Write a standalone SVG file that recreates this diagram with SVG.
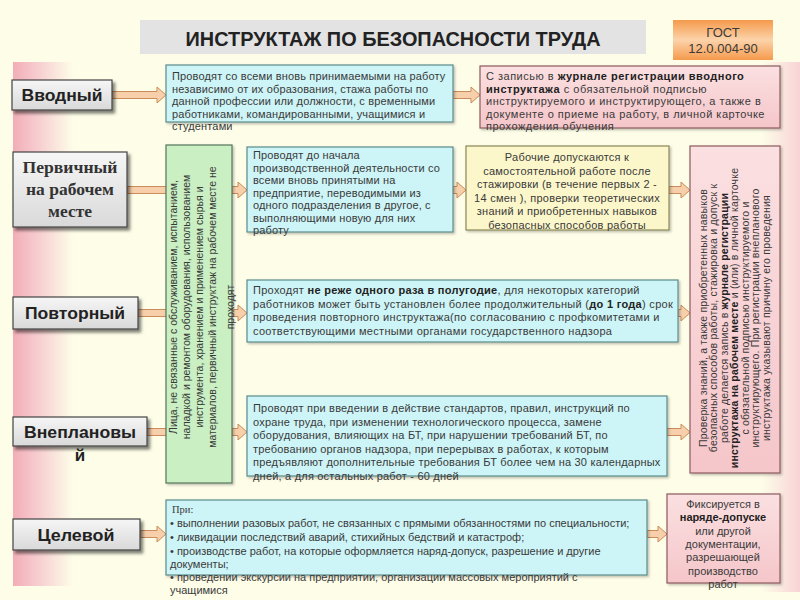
<svg xmlns="http://www.w3.org/2000/svg" width="800" height="600" viewBox="0 0 800 600">
<defs>
<linearGradient id="gLeftBand" x1="0" y1="0" x2="1" y2="0">
<stop offset="0" stop-color="#f2adb6"/><stop offset="0.35" stop-color="#f6c8cd"/><stop offset="1" stop-color="#fdfde8"/>
</linearGradient>
<linearGradient id="gRightBand" x1="0" y1="0" x2="1" y2="0">
<stop offset="0" stop-color="#fdfde8"/><stop offset="1" stop-color="#f8d3d6"/>
</linearGradient>
<linearGradient id="gLabel" x1="0" y1="0" x2="0" y2="1">
<stop offset="0" stop-color="#f6f6f6"/><stop offset="1" stop-color="#d9d9d9"/>
</linearGradient>
<linearGradient id="gPink" x1="0" y1="0" x2="0" y2="1">
<stop offset="0" stop-color="#fbe0e1"/><stop offset="1" stop-color="#f5c6ca"/>
</linearGradient>
<linearGradient id="gGost" x1="0" y1="0" x2="0" y2="1">
<stop offset="0" stop-color="#f59a4c"/><stop offset="0.5" stop-color="#fcd3aa"/><stop offset="1" stop-color="#f59a4c"/>
</linearGradient>
<filter id="shadow" x="-10%" y="-10%" width="130%" height="140%">
<feDropShadow dx="2.5" dy="3" stdDeviation="1.5" flood-color="#000" flood-opacity="0.5"/>
</filter>
<filter id="shadowS" x="-5%" y="-5%" width="110%" height="115%">
<feDropShadow dx="1.5" dy="1.5" stdDeviation="1" flood-color="#000" flood-opacity="0.25"/>
</filter>
</defs>
<style>
.lbl{fill:url(#gLabel);stroke:#444;stroke-width:1.2;filter:url(#shadow)}
.cyan{fill:#cdf4f6;stroke:#5b8a8c;stroke-width:1.2;filter:url(#shadowS)}
.pink{fill:url(#gPink);stroke:#8c5a5e;stroke-width:1.2;filter:url(#shadowS)}
.yel{fill:#fcf7cb;stroke:#8a8757;stroke-width:1.2;filter:url(#shadowS)}
.grn{fill:#c9efc2;stroke:#56755a;stroke-width:1.2;filter:url(#shadowS)}
.arr{fill:#f8cfab;stroke:#c98c5a;stroke-width:1}
.lt{font-family:"Liberation Sans",Arial,sans-serif;font-size:17px;font-weight:bold;fill:#222;text-anchor:middle}
.lts{font-family:"Liberation Serif","Times New Roman",serif;font-size:17px;font-weight:bold;fill:#333;text-anchor:middle}
.t{font-family:"Liberation Sans",Arial,sans-serif;font-size:10.5px;fill:#3a3a3a}
.t11{font-family:"Liberation Sans",Arial,sans-serif;font-size:11px;fill:#3a3a3a}
.sp{font-family:"Liberation Sans",Arial,sans-serif;font-size:11px;fill:#3a3a3a;letter-spacing:0.15px}
.sy{font-family:"Liberation Sans",Arial,sans-serif;font-size:11px;fill:#3a3a3a;letter-spacing:0.25px}
.c{text-anchor:middle}
.b{font-weight:bold;fill:#222}
</style>
<rect width="800" height="600" fill="#fdfde8"/>
<rect x="13" y="62" width="60" height="524" fill="url(#gLeftBand)"/>
<rect x="762" y="62" width="38" height="530" fill="url(#gRightBand)"/>

<g id="title">
<rect x="140" y="20" width="506" height="34" fill="#e3e3e3"/>
<text x="393" y="46" font-family="Liberation Sans,Arial,sans-serif" font-size="21" font-weight="bold" fill="#222" text-anchor="middle" textLength="415" lengthAdjust="spacingAndGlyphs">ИНСТРУКТАЖ ПО БЕЗОПАСНОСТИ ТРУДА</text>
</g>
<g id="gost">
<rect x="673" y="20" width="100" height="40" fill="url(#gGost)"/>
<text x="723" y="37" font-family="Liberation Sans,Arial,sans-serif" font-size="13" fill="#3a3a3a" text-anchor="middle">ГОСТ</text>
<text x="723" y="53" font-family="Liberation Sans,Arial,sans-serif" font-size="13" fill="#3a3a3a" text-anchor="middle">12.0.004-90</text>
</g>

<g id="connectors">
<path class="arr" d="M112,91.5 L157,91.5 L157,87 L166,95 L157,103 L157,98.5 L112,98.5 Z"/>
<path class="arr" d="M453,91.5 L471,91.5 L471,87 L480,95 L471,103 L471,98.5 L453,98.5 Z"/>
<path class="arr" d="M127,186.5 L170,186.5 L170,193.5 L127,193.5 Z"/>
<path class="arr" d="M232,186.5 L238,186.5 L238,182 L247,190 L238,198 L238,193.5 L232,193.5 Z"/>
<path class="arr" d="M453,186.5 L457,186.5 L457,182 L466,190 L457,198 L457,193.5 L453,193.5 Z"/>
<path class="arr" d="M669,186.5 L681,186.5 L681,182 L690,190 L681,198 L681,193.5 L669,193.5 Z"/>
<path class="arr" d="M138,309.5 L170,309.5 L170,316.5 L138,316.5 Z"/>
<path class="arr" d="M232,309.5 L238,309.5 L238,305 L247,313 L238,321 L238,316.5 L232,316.5 Z"/>
<path class="arr" d="M678,309.5 L681,309.5 L681,305 L690,313 L681,321 L681,316.5 L678,316.5 Z"/>
<path class="arr" d="M147,428.5 L170,428.5 L170,435.5 L147,435.5 Z"/>
<path class="arr" d="M232,428.5 L238,428.5 L238,424 L247,432 L238,440 L238,435.5 L232,435.5 Z"/>
<path class="arr" d="M667,428.5 L681,428.5 L681,424 L690,432 L681,440 L681,435.5 L667,435.5 Z"/>
<path class="arr" d="M140,530.5 L157,530.5 L157,526 L166,534 L157,542 L157,537.5 L140,537.5 Z"/>
<path class="arr" d="M647,530.5 L658,530.5 L658,526 L667,534 L658,542 L658,537.5 L647,537.5 Z"/>
</g>

<g id="vvodny">
<rect class="lbl" x="12" y="80" width="100" height="30"/>
<text class="lt" x="62" y="101" textLength="81" lengthAdjust="spacingAndGlyphs">Вводный</text>
</g>
<g id="vvodny-desc">
<rect class="cyan" x="166" y="65" width="287" height="57"/>
<text class="t11" x="172" y="80" letter-spacing="0.15">Проводят со всеми вновь принимаемыми на работу</text>
<text class="t11" x="172" y="92.5" letter-spacing="0.15">независимо от их образования, стажа работы по</text>
<text class="t11" x="172" y="105" letter-spacing="0.15">данной профессии или должности, с временными</text>
<text class="t11" x="172" y="117.5" letter-spacing="0.15">работниками, командированными, учащимися и</text>
<text class="t11" x="172" y="130" letter-spacing="0.15">студентами</text>
</g>
<g id="vvodny-reg">
<rect class="pink" x="480" y="66" width="300" height="62"/>
<text class="t11" x="486" y="80" letter-spacing="0.5">С записью в <tspan class="b">журнале регистрации вводного</tspan></text>
<text class="t11" x="486" y="92.5" letter-spacing="0.5"><tspan class="b">инструктажа</tspan> с обязательной подписью</text>
<text class="t11" x="486" y="105" letter-spacing="0.5">инструктируемого и инструктирующего, а также в</text>
<text class="t11" x="486" y="117.5" letter-spacing="0.5">документе о приеме на работу, в личной карточке</text>
<text class="t11" x="486" y="130" letter-spacing="0.5">прохождения обучения</text>
</g>

<g id="pervichny">
<rect class="lbl" x="13" y="152" width="114" height="75"/>
<text class="lts" x="70" y="173" textLength="95" lengthAdjust="spacingAndGlyphs">Первичный</text>
<text class="lts" x="70" y="195" textLength="88" lengthAdjust="spacingAndGlyphs">на рабочем</text>
<text class="lts" x="70" y="217" textLength="44" lengthAdjust="spacingAndGlyphs">месте</text>
</g>
<g id="exempt">
<rect class="grn" x="166" y="145" width="66" height="338"/>
<g transform="rotate(-90)">
<text class="t c" x="-307" y="177">Лица, не связанные с обслуживанием, испытанием,</text>
<text class="t c" x="-307" y="190">наладкой и ремонтом оборудования, использованием</text>
<text class="t c" x="-307" y="203">инструмента, хранением и применением сырья и</text>
<text class="t c" x="-307" y="216">материалов, первичный инструктаж на рабочем месте не</text>
<text class="t c" x="-307" y="234">проходят</text>
</g>
</g>
<g id="pervichny-desc">
<rect class="cyan" x="247" y="147" width="206" height="85"/>
<text class="sp" x="253" y="159">Проводят до начала</text>
<text class="sp" x="253" y="171.5">производственной деятельности со</text>
<text class="sp" x="253" y="184">всеми вновь принятыми на</text>
<text class="sp" x="253" y="196.5">предприятие, переводимыми из</text>
<text class="sp" x="253" y="209">одного подразделения в другое, с</text>
<text class="sp" x="253" y="221.5">выполняющими новую для них</text>
<text class="sp" x="253" y="234">работу</text>
</g>
<g id="pervichny-admit">
<rect class="yel" x="466" y="146" width="203" height="84"/>
<text class="sy c" x="567" y="161">Рабочие допускаются к</text>
<text class="sy c" x="567" y="174.5">самостоятельной работе после</text>
<text class="sy c" x="567" y="188">стажировки (в течение первых 2 -</text>
<text class="sy c" x="567" y="201.5">14 смен ), проверки теоретических</text>
<text class="sy c" x="567" y="215">знаний и приобретенных навыков</text>
<text class="sy c" x="567" y="228.5">безопасных способов работы</text>
</g>
<g id="registration">
<rect class="pink" x="690" y="146" width="90" height="327"/>
<g transform="rotate(-90)">
<text class="t c" font-size="10" letter-spacing="0.2" x="-318" y="706.5">Проверка знаний, а также приобретенных навыков</text>
<text class="t c" font-size="10" letter-spacing="0.2" x="-318" y="717">безопасных способов работы, стажировка и допуск к</text>
<text class="t c" font-size="10" letter-spacing="0.2" x="-318" y="727.5">работе делается запись в <tspan class="b">журнале регистрации</tspan></text>
<text class="t c" font-size="10" letter-spacing="0.2" x="-318" y="738"><tspan class="b">инструктажа на рабочем месте</tspan> и (или) в личной карточке</text>
<text class="t c" font-size="10" letter-spacing="0.2" x="-318" y="748.5">с обязательной подписью инструктируемого и</text>
<text class="t c" font-size="10" letter-spacing="0.2" x="-318" y="759">инструктирующего. При регистрации внепланового</text>
<text class="t c" font-size="10" letter-spacing="0.2" x="-318" y="769.5">инструктажа указывают причину его проведения</text>
</g>
</g>

<g id="povtorny">
<rect class="lbl" x="13" y="297" width="125" height="32"/>
<text class="lt" x="75" y="319" textLength="100" lengthAdjust="spacingAndGlyphs">Повторный</text>
</g>
<g id="povtorny-desc">
<rect class="cyan" x="247" y="280" width="431" height="62"/>
<text class="t11" letter-spacing="0.3" x="253" y="294">Проходят <tspan class="b">не реже одного раза в полугодие</tspan>, для некоторых категорий</text>
<text class="t11" letter-spacing="0.3" x="253" y="307.5">работников может быть установлен более продолжительный (<tspan class="b">до 1 года</tspan>) срок</text>
<text class="t11" letter-spacing="0.3" x="253" y="321">проведения повторного инструктажа(по согласованию с профкомитетами и</text>
<text class="t11" letter-spacing="0.3" x="253" y="334.5">соответствующими местными органами государственного надзора</text>
</g>

<g id="vneplanovy">
<rect class="lbl" x="13" y="417" width="134" height="29"/>
<text class="lt" x="80" y="438" textLength="112" lengthAdjust="spacingAndGlyphs">Внеплановы</text>
<text class="lt" x="80" y="461">й</text>
</g>
<g id="vneplanovy-desc">
<rect class="cyan" x="247" y="396" width="420" height="80"/>
<text class="t11" letter-spacing="0.2" x="253" y="412">Проводят при введении в действие стандартов, правил, инструкций по</text>
<text class="t11" letter-spacing="0.2" x="253" y="425.5">охране труда, при изменении технологического процесса, замене</text>
<text class="t11" letter-spacing="0.2" x="253" y="439">оборудования, влияющих на БТ, при нарушении требований БТ, по</text>
<text class="t11" letter-spacing="0.2" x="253" y="452.5">требованию органов надзора, при перерывах в работах, к которым</text>
<text class="t11" letter-spacing="0.2" x="253" y="466">предъявляют дополнительные требования БТ более чем на 30 календарных</text>
<text class="t11" letter-spacing="0.2" x="253" y="479.5">дней, а для остальных работ - 60 дней</text>
</g>

<g id="tselevoy">
<rect class="lbl" x="13" y="519" width="127" height="31"/>
<text class="lt" x="76" y="541" textLength="77" lengthAdjust="spacingAndGlyphs">Целевой</text>
</g>
<g id="tselevoy-desc">
<rect class="cyan" x="166" y="500" width="481" height="75"/>
<text x="172" y="513" font-family="Liberation Serif,serif" font-size="10.5" fill="#3a3a3a">При:</text>
<text class="t11" x="170" y="527">• выполнении разовых работ, не связанных с прямыми обязанностями по специальности;</text>
<text class="t11" x="170" y="541">• ликвидации последствий аварий, стихийных бедствий и катастроф;</text>
<text class="t11" x="170" y="555">• производстве работ, на которые оформляется наряд-допуск, разрешение и другие</text>
<text class="t11" x="170" y="568">документы;</text>
<text class="t11" x="170" y="581">• проведении экскурсии на предприятии, организации массовых мероприятий с</text>
<text class="t11" x="170" y="594">учащимися</text>
</g>
<g id="tselevoy-record">
<rect class="pink" x="667" y="494" width="113" height="89"/>
<text class="t11 c" x="723" y="508">Фиксируется  в</text>
<text class="t11 c b" x="723" y="521">наряде-допуске</text>
<text class="t11 c" x="723" y="535">или другой</text>
<text class="t11 c" x="723" y="548">документации,</text>
<text class="t11 c" x="723" y="561">разрешающей</text>
<text class="t11 c" x="723" y="575">производство</text>
<text class="t11 c" x="723" y="588">работ</text>
</g>
</svg>
